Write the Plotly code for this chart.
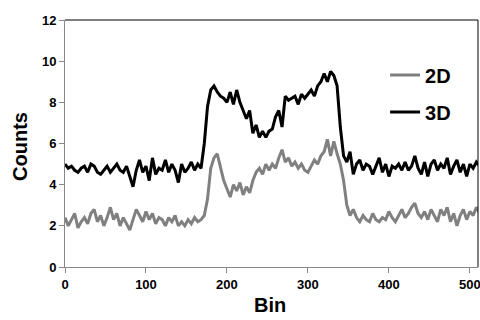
import plotly.graph_objects as go

bins = list(range(0, 513, 4))

counts_3d = [5.0, 4.8, 4.9, 4.7, 4.6, 4.8, 4.9, 4.6, 5.0, 4.9, 4.6, 4.5, 4.7, 4.9, 4.6, 4.8,
             5.0, 4.7, 4.6, 4.9, 4.4, 3.9, 4.7, 5.2, 4.6, 4.9, 4.2, 5.3, 4.5, 4.8, 4.7, 5.2,
             4.6, 5.0, 4.7, 4.1, 5.0, 4.6, 4.8, 5.1, 4.7, 5.0, 4.8, 6.0, 7.8, 8.6, 8.8, 8.5,
             8.3, 8.2, 8.0, 8.5, 7.9, 8.6, 8.0, 7.6, 7.2, 7.6, 6.5, 6.9, 6.3, 6.6, 6.3, 6.6,
             6.7, 7.3, 7.6, 6.8, 8.3, 8.1, 8.2, 8.3, 7.9, 8.4, 8.2, 8.4, 8.6, 8.3, 8.8, 9.0,
             9.4, 9.0, 9.5, 9.3, 8.8, 6.8, 5.4, 5.1, 5.6, 4.5, 5.0, 5.2, 4.7, 5.0, 4.9, 4.5,
             4.9, 5.3, 4.6, 5.0, 4.4, 4.9, 4.8, 5.0, 4.7, 5.1, 4.7, 4.9, 5.4, 4.8, 4.5, 5.1,
             4.4, 5.0, 5.2, 4.7, 5.0, 4.8, 5.3, 4.5, 4.9, 5.2, 4.6, 5.0, 4.4, 5.0, 4.8, 5.1,
             4.9]

counts_2d = [2.4, 2.0, 2.3, 2.6, 1.9, 2.2, 2.4, 2.1, 2.6, 2.8, 2.2, 2.5, 2.0, 2.4, 2.9, 2.3,
             2.6, 2.0, 2.4, 2.1, 1.8, 2.3, 2.8, 2.5, 2.2, 2.7, 2.3, 2.6, 2.1, 2.4, 2.3, 2.0,
             2.4, 2.2, 2.5, 2.0, 2.2, 2.0, 2.3, 2.1, 2.4, 2.2, 2.3, 2.5, 3.3, 4.8, 5.3, 5.5,
             4.8, 4.2, 3.8, 3.4, 4.0, 3.7, 4.1, 3.5, 3.9, 3.6, 4.2, 4.6, 4.8, 4.5, 5.0, 4.7,
             5.0, 4.8, 5.3, 5.7, 5.1, 5.3, 4.9, 5.1, 4.8, 5.0, 4.7, 4.6, 4.9, 5.2, 5.0, 5.4,
             5.6, 6.2, 5.4, 6.1, 5.5, 5.0, 4.2, 3.0, 2.5, 2.8, 2.4, 2.2, 2.5, 2.3, 2.2, 2.6,
             2.3, 2.2, 2.4, 2.3, 2.7, 2.4, 2.2, 2.5, 2.8, 2.4, 2.6, 2.9, 3.1, 2.6, 2.4, 2.7,
             2.3, 2.8, 2.5, 2.2, 2.8, 2.5, 2.9, 2.2, 2.6, 2.0, 2.5, 2.8, 2.3, 2.7, 2.5, 2.9,
             2.6]

x_ticks = [0, 100, 200, 300, 400, 500]
y_ticks = [0, 2, 4, 6, 8, 10, 12]

FONT = "Liberation Sans, Arial, sans-serif"

fig = go.Figure()
fig.add_trace(go.Scatter(x=bins, y=counts_2d, mode="lines", name="2D",
                         line=dict(color="#808080", width=3), legend="legend"))
fig.add_trace(go.Scatter(x=bins, y=counts_3d, mode="lines", name="3D",
                         line=dict(color="#000000", width=3), legend="legend2"))

legend_common = dict(font=dict(family=FONT, size=20, color="black", weight="bold"),
                     bgcolor="rgba(0,0,0,0)", xanchor="left", yanchor="middle",
                     itemwidth=30)

tickfont = dict(family=FONT, size=13, color="black", weight="bold")
titlefont = dict(family=FONT, size=20, color="black", weight="bold")

fig.update_layout(
    width=480, height=320,
    margin=dict(l=65, r=2, t=20, b=53, autoexpand=False),
    paper_bgcolor="white", plot_bgcolor="white",
    showlegend=True,
    legend=dict(x=0.775, y=0.777, **legend_common),
    legend2=dict(x=0.775, y=0.628, **legend_common),
    xaxis=dict(range=[0, 510], tickvals=x_ticks, ticks="outside", ticklen=5,
               tickcolor="#888888", showline=True, linecolor="#888888", linewidth=1,
               showgrid=False, zeroline=False, automargin=False, tickfont=tickfont,
               ticklabeloverflow="allow"),
    yaxis=dict(range=[0, 12], tickvals=y_ticks, ticks="outside", ticklen=5,
               tickcolor="#888888", showline=True, linecolor="#888888", linewidth=1,
               showgrid=False, zeroline=False, automargin=False, tickfont=tickfont),
    annotations=[
        dict(text="Bin", xref="paper", yref="paper", x=0.496, y=-0.154,
             xanchor="center", yanchor="middle", showarrow=False, font=titlefont),
        dict(text="Counts", xref="paper", yref="paper", x=-0.109, y=0.49,
             xanchor="center", yanchor="middle", showarrow=False, font=titlefont,
             textangle=-90),
    ],
    shapes=[
        dict(type="line", xref="x domain", yref="y domain", x0=0, x1=1, y0=1, y1=1,
             line=dict(color="black", width=1)),
        dict(type="line", xref="x domain", yref="y domain", x0=1, x1=1, y0=0, y1=1,
             line=dict(color="black", width=1)),
    ],
)

fig.write_html("out.html", config={"displayModeBar": False},
               post_script="document.body.style.margin='0';document.body.style.overflow='hidden';")
